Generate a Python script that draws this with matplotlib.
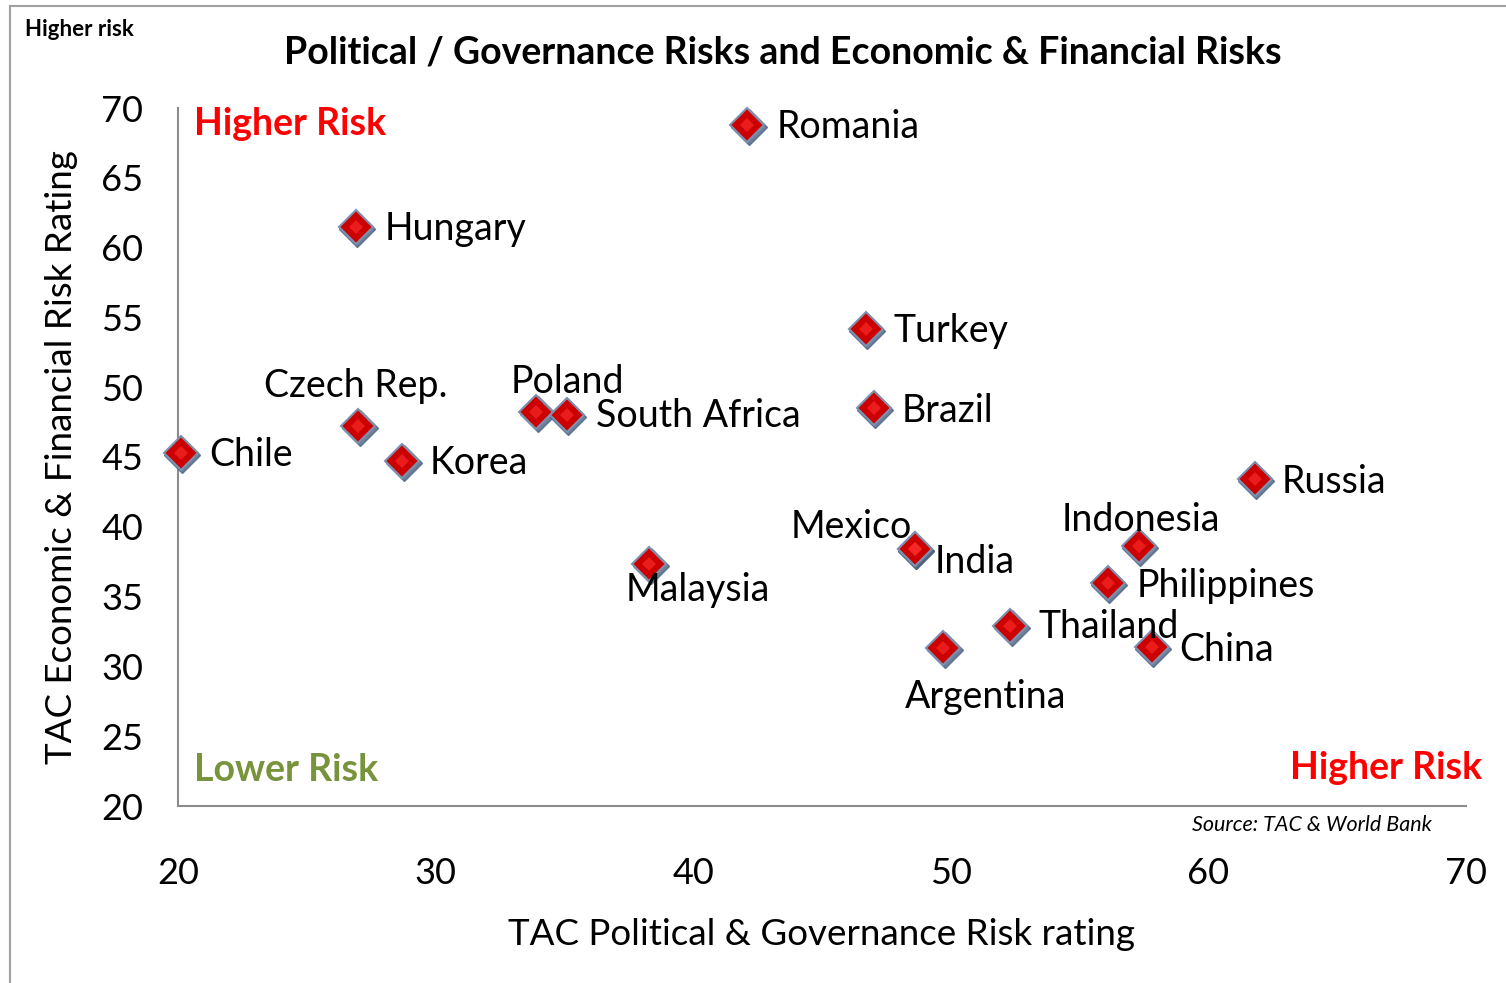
import numpy as np
import matplotlib.pyplot as plt
import matplotlib.transforms as mtransforms

plt.rcParams['font.family'] = ['Lato', 'DejaVu Sans']

# TAC ratings per country
countries = ["Romania", "Hungary", "Turkey", "Brazil", "Poland", "South Africa",
             "Czech Rep.", "Chile", "Korea", "Malaysia", "Mexico", "India",
             "Indonesia", "Philippines", "Thailand", "China", "Argentina", "Russia"]
political = [42.1, 26.9, 46.7, 47.0, 33.9, 35.1,
             27.0, 20.1, 28.7, 38.3, 48.6, 48.6,
             57.3, 56.1, 52.3, 57.8, 49.7, 61.8]
economic = [68.8, 61.5, 54.2, 48.5, 48.2, 48.0,
            47.2, 45.3, 44.7, 37.3, 38.4, 38.4,
            38.6, 36.0, 32.9, 31.4, 31.3, 43.4]

xticks = [20, 30, 40, 50, 60, 70]
yticks = [20, 25, 30, 35, 40, 45, 50, 55, 60, 65, 70]

# label placement: (dx, dy) in pixels from the marker, horizontal alignment
label_pos = {
    "Romania": (29, 2, "left"), "Hungary": (29, 2, "left"),
    "Turkey": (28, 2, "left"), "Brazil": (28, 3, "left"),
    "Poland": (31, -30, "center"), "South Africa": (29, 1, "left"),
    "Czech Rep.": (-3, -40, "center"), "Chile": (29, 2, "left"),
    "Korea": (28, 2, "left"), "Malaysia": (48, 26, "center"),
    "Mexico": (-3, -22, "right"), "India": (20, 13, "left"),
    "Indonesia": (2, -26, "center"), "Philippines": (29, 3, "left"),
    "Thailand": (28, 1, "left"), "China": (28, 3, "left"),
    "Argentina": (43, 49, "center"), "Russia": (27, 3, "left"),
}

W, H = 1506, 983
fig = plt.figure(figsize=(W / 100, H / 100), dpi=100)
ax = fig.add_axes([178 / W, 1 - 806 / H, (1466 - 178) / W, (806 - 108) / H])

ax.set_xlim(20, 70)
ax.set_ylim(20, 70)
ax.set_xticks(xticks)
ax.set_yticks(yticks)
ax.tick_params(length=0, labelsize=26)
ax.tick_params(axis='y', pad=25)
ax.tick_params(axis='x', pad=37)
for s in ['top', 'right']:
    ax.spines[s].set_visible(False)
for s in ['left', 'bottom']:
    ax.spines[s].set_color('#8c8c8c')
    ax.spines[s].set_linewidth(1.5)

# diamond markers with a blue-grey drop shadow
shadow = mtransforms.offset_copy(ax.transData, fig=fig, x=1.5, y=-2.0, units='dots')
ax.plot(political, economic, 'D', ms=18.5, color='#4a6282', alpha=0.8,
        transform=shadow, clip_on=False, zorder=3)
ax.plot(political, economic, 'D', ms=17, color='#cc0000', mec='#7d90ae',
        mew=1.5, clip_on=False, zorder=4)
ax.plot(political, economic, 'D', ms=7, color='#ff3030', mew=0,
        clip_on=False, zorder=5, alpha=0.6)

for name, x, y in zip(countries, political, economic):
    dx, dy, ha = label_pos[name]
    ax.annotate(name, (x, y), xytext=(dx * 0.72, -dy * 0.72),
                textcoords='offset points', ha=ha, va='center',
                fontsize=27, zorder=6)

ax.set_xlabel("TAC Political & Governance Risk rating", fontsize=26.5)
ax.set_ylabel("TAC Economic & Financial Risk Rating", fontsize=26.5)
ax.xaxis.set_label_coords(0.5, -(918 - 806) / (806 - 108))
ax.yaxis.set_label_coords(-(178 - 78) / (1466 - 178), 0.5)

ax.text(20.62, 68.85, "Higher Risk", color='#ff0000', fontsize=27,
        fontweight='bold', va='center', ha='left')
ax.text(20.62, 22.6, "Lower Risk", color='#77933c', fontsize=27,
        fontweight='bold', va='center', ha='left')
ax.text(70.62, 22.7, "Higher Risk", color='#ff0000', fontsize=27,
        fontweight='bold', va='center', ha='right', clip_on=False)

fig.text(783 / W, 1 - 52 / H,
         "Political / Governance Risks and Economic & Financial Risks",
         fontsize=27, fontweight='bold', ha='center', va='center')
fig.text(25 / W, 1 - 30 / H, "Higher risk", fontsize=16, fontweight='bold',
         ha='left', va='center')
fig.text(1432 / W, 1 - 825 / H, "Source: TAC & World Bank", fontsize=15.5,
         style='italic', ha='right', va='center')

# outer chart frame (top and left edges)
fig.add_artist(plt.Line2D([10 / W, 10 / W], [0, 1 - 6 / H], color='#a0a0a0', lw=1.5))
fig.add_artist(plt.Line2D([10 / W, 1], [1 - 6 / H, 1 - 6 / H], color='#a0a0a0', lw=1.5))

fig.savefig("out.png", dpi=100)
